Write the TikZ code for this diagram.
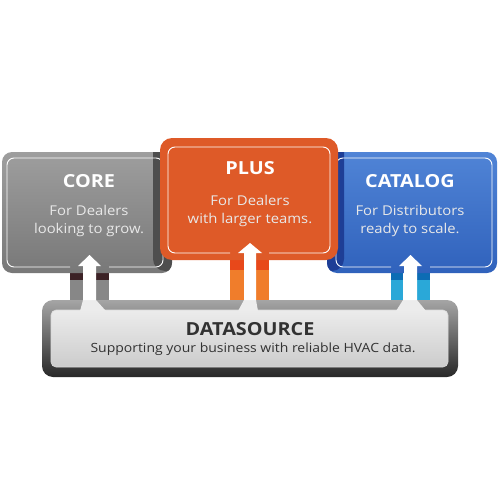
\documentclass[tikz,border=0pt]{standalone}
\usepackage{fontspec}
\setmainfont{Open Sans}[FakeStretch=1.1]
\definecolor{coreT}{RGB}{158,158,158}
\definecolor{coreB}{RGB}{120,120,120}
\definecolor{coreSh}{RGB}{78,78,78}
\definecolor{plusC}{RGB}{222,90,40}
\definecolor{catT}{RGB}{80,132,214}
\definecolor{catB}{RGB}{48,98,188}
\definecolor{catSh}{RGB}{30,62,150}
\definecolor{pilG}{RGB}{135,135,135}
\definecolor{pilGd}{RGB}{60,34,38}
\definecolor{pilO}{RGB}{240,125,43}
\definecolor{pilOd}{RGB}{232,72,26}
\definecolor{pilB}{RGB}{42,168,216}
\definecolor{pilBd}{RGB}{12,108,180}
\definecolor{dsT}{RGB}{165,165,165}
\definecolor{dsB}{RGB}{40,40,40}
\definecolor{dsiT}{RGB}{236,236,236}
\definecolor{dsiB}{RGB}{204,204,204}
\definecolor{dstext}{RGB}{50,50,50}
\definecolor{subtext}{RGB}{232,232,232}
\tikzset{
  outline/.style={draw=white, line width=0.9pt, rounded corners=7pt},
  title/.style={text=white, font=\fontsize{18}{20}\selectfont\bfseries, inner sep=0pt},
  sub/.style={text=subtext, font=\fontsize{13.5}{18}\selectfont, align=center, inner sep=0pt},
  uparrow/.style={fill=white, draw=none},
  glow/.style={fill=dsiT, draw=none}
}
\begin{document}
\begin{tikzpicture}[x=1pt,y=-1pt]
\useasboundingbox (0,0) rectangle (500,500);
% pillars
\fill[pilG] (70,268) rectangle (83,300);
\fill[pilG] (96,268) rectangle (109,300);
\fill[pilGd] (70,272) rectangle (83,280);
\fill[pilGd] (96,272) rectangle (109,280);
\fill[pilO] (230,255) rectangle (244,300);
\fill[pilO] (256,255) rectangle (269,300);
\fill[pilOd] (230,258) rectangle (244,270);
\fill[pilOd] (256,258) rectangle (269,270);
\fill[pilB] (391,268) rectangle (403,300);
\fill[pilB] (417,268) rectangle (430,300);
\fill[pilBd] (391,272) rectangle (403,280);
\fill[pilBd] (417,272) rectangle (430,280);
% CORE box
\begin{scope}
\path[clip, rounded corners=10pt] (2,152) rectangle (172,273);
\shade[top color=coreT, bottom color=coreB] (2,152) rectangle (172,273);
\fill[coreSh, rounded corners=12pt] (153,136) rectangle (346,271);
\end{scope}
\draw[outline] (109,267) -- (163,267) -- (163,158) -- (7,158) -- (7,267) -- (70,267);
% CATALOG box
\begin{scope}
\path[clip, rounded corners=10pt] (327,152) rectangle (497,273);
\shade[top color=catT, bottom color=catB] (327,152) rectangle (497,273);
\fill[catSh, rounded corners=12pt] (153,136) rectangle (344,271);
\end{scope}
\draw[outline] (430,267) -- (492,267) -- (492,158) -- (336,158) -- (336,267) -- (391,267);
% PLUS box
\fill[plusC, rounded corners=12pt] (160,138) rectangle (338,260);
\draw[outline] (269,253) -- (330,253) -- (330,147) -- (168,147) -- (168,253) -- (230,253);
% datasource
\shade[top color=dsT, bottom color=dsB, rounded corners=11pt] (42,300) rectangle (458,377);
\shade[top color=dsiT, bottom color=dsiB, rounded corners=5pt] (51,310) rectangle (448,367);
\draw[white!85!black, line width=0.6pt, rounded corners=5pt] (51,310) rectangle (448,367);
% glows into datasource
\fill[glow] (83,300) -- (96,300) -- (106,311) -- (80,311) -- cycle;
\fill[glow] (244,300) -- (256,300) -- (258,311) -- (238,311) -- cycle;
\fill[glow] (403,300) -- (417,300) -- (426,311) -- (396,311) -- cycle;
% arrows
\fill[uparrow] (83,300) -- (83,266) -- (78,266) -- (89.5,255) -- (101,266) -- (96,266) -- (96,300) -- cycle;
\fill[uparrow] (244,300) -- (244,253) -- (238,253) -- (250,243) -- (262,253) -- (256,253) -- (256,300) -- cycle;
\fill[uparrow] (404,300) -- (404,266) -- (399,266) -- (410.5,255) -- (422,266) -- (417,266) -- (417,300) -- cycle;
% texts
\node[title] (coret) at (89,181) {CORE};
\node[sub] (cores) at (89,221) {For Dealers\\looking to grow.};
\node[title] (plust) at (250,168) {PLUS};
\node[sub] (pluss) at (250,211) {For Dealers\\with larger teams.};
\node[title] (catt) at (410,181) {CATALOG};
\node[sub] (cats) at (410,221) {For Distributors\\ready to scale.};
\node[text=dstext, font=\fontsize{18}{20}\selectfont\bfseries, inner sep=0pt] (dst) at (250,329) {DATASOURCE};
\node[text=dstext, font=\fontsize{12.7}{16}\selectfont, inner sep=0pt] (dss) at (253,349) {Supporting your business with reliable HVAC data.};
\end{tikzpicture}
\end{document}
